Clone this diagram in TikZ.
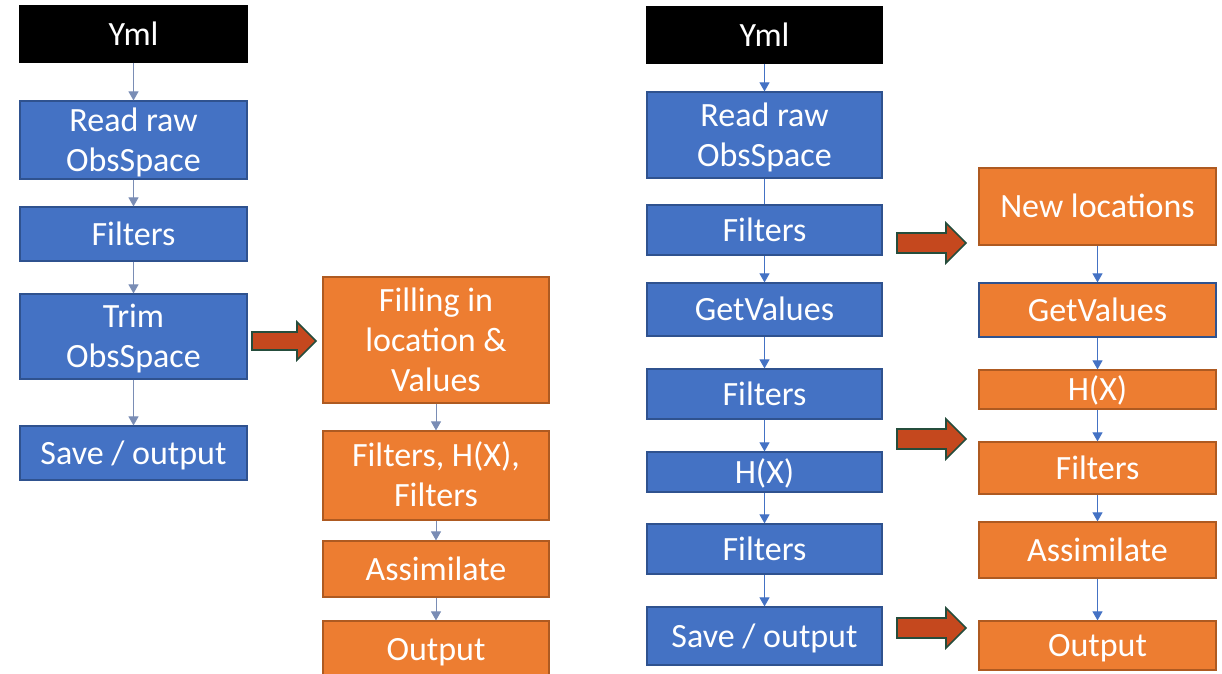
\documentclass[tikz,border=0pt]{standalone}
\usepackage{fontspec}
\setmainfont{Carlito}
\usetikzlibrary{arrows.meta}
\definecolor{boxblue}{HTML}{4472C4}
\definecolor{edgeblue}{HTML}{2F528F}
\definecolor{boxorange}{HTML}{ED7D31}
\definecolor{edgeorange}{HTML}{AE5A21}
\definecolor{fatred}{HTML}{C5481E}
\definecolor{fatedge}{HTML}{254D3C}
\definecolor{linkgray}{HTML}{7A8DB5}

\begin{document}
\begin{tikzpicture}[x=1pt,y=-1pt,
  box/.style={draw,line width=1.2pt,inner sep=0pt,text width=220pt,align=flush center,
    text=white,font=\fontsize{34}{40}\selectfont,
    execute at begin node={\noindent\rule{0pt}{30pt}},
    execute at end node={\rule[-8pt]{0pt}{8pt}}},
  bluebox/.style={box,fill=boxblue,draw=edgeblue},
  orangebox/.style={box,fill=boxorange,draw=edgeorange},
  ymlbox/.style={box,fill=black,draw=black},
  flow/.style={draw=boxblue,line width=1pt,-{Triangle[width=10pt,length=9pt]}},
  fat/.style={draw=fatedge,fill=fatred,line width=1.6pt,line join=miter}]
  \useasboundingbox (0,0) rectangle (1222,673);
  \clip (0,0) rectangle (1222,673);

  % left chain
  \node[ymlbox,minimum width=227pt,minimum height=56pt] (yml1) at (133.5,34) {Yml};
  \node[bluebox,minimum width=227pt,minimum height=76pt] (read1) at (133.5,140) {Read raw\\ObsSpace};
  \node[bluebox,minimum width=227pt,minimum height=54pt] (filt1) at (133.5,234) {Filters};
  \node[bluebox,minimum width=227pt,minimum height=85pt] (trim1) at (133.5,336.5) {Trim\\ObsSpace};
  \node[bluebox,minimum width=227pt,minimum height=54pt] (save1) at (133.5,453) {Save / output};

  \node[orangebox,minimum width=226pt,minimum height=126pt] (fill1) at (436,340) {Filling in\\location \&\\Values};
  \node[orangebox,minimum width=226pt,minimum height=89pt] (fhf1) at (436,475.5) {Filters, H(X),\\Filters};
  \node[orangebox,minimum width=226pt,minimum height=56pt] (assim1) at (436,569) {Assimilate};
  \node[orangebox,minimum width=226pt,minimum height=56pt] (out1) at (436,649) {Output};

  \draw[flow,draw=linkgray] (yml1) -- (read1);
  \draw[flow,draw=linkgray] (read1) -- (filt1);
  \draw[flow,draw=linkgray] (filt1) -- (trim1);
  \draw[flow,draw=linkgray] (trim1) -- (save1);
  \draw[flow,draw=linkgray] (fill1) -- (fhf1);
  \draw[flow,draw=linkgray] (fhf1) -- (assim1);
  \draw[flow,draw=linkgray] (assim1) -- (out1);

  \coordinate (fa1) at (252,341);
  \draw[fat] (fa1) ++(0,-9) -- ++(45,0) -- ++(0,-10) -- ++(19,19)
    -- ++(-19,19) -- ++(0,-10) -- ++(-45,0) -- cycle;

  % right chain
  \node[ymlbox,minimum width=235pt,minimum height=56pt] (yml2) at (764.5,35) {Yml};
  \node[bluebox,minimum width=235pt,minimum height=86pt] (read2) at (764.5,135) {Read raw\\ObsSpace};
  \node[bluebox,minimum width=235pt,minimum height=50pt] (filt2) at (764.5,230) {Filters};
  \node[bluebox,minimum width=235pt,minimum height=53pt] (getv2) at (764.5,309.5) {GetValues};
  \node[bluebox,minimum width=235pt,minimum height=50pt] (filt3) at (764.5,394) {Filters};
  \node[bluebox,minimum width=235pt,minimum height=40pt] (hx2) at (764.5,472) {H(X)};
  \node[bluebox,minimum width=235pt,minimum height=50pt] (filt4) at (764.5,549) {Filters};
  \node[bluebox,minimum width=235pt,minimum height=58pt] (save2) at (764.5,636) {Save / output};

  \node[orangebox,minimum width=237pt,minimum height=77pt] (newloc) at (1097.5,206.5) {New locations};
  \node[orangebox,draw=edgeblue,minimum width=237pt,minimum height=54pt] (getv3) at (1097.5,310) {GetValues};
  \node[orangebox,minimum width=237pt,minimum height=39pt] (hx3) at (1097.5,389.5) {H(X)};
  \node[orangebox,minimum width=237pt,minimum height=52pt] (filt5) at (1097.5,468) {Filters};
  \node[orangebox,minimum width=237pt,minimum height=56pt] (assim2) at (1097.5,550) {Assimilate};
  \node[orangebox,minimum width=237pt,minimum height=49pt] (out2) at (1097.5,645.5) {Output};

  \draw[flow] (yml2) -- (read2);
  \draw[draw=boxblue,line width=1pt] (read2) -- (filt2);
  \draw[flow] (filt2) -- (getv2);
  \draw[flow] (getv2) -- (filt3);
  \draw[flow] (filt3) -- (hx2);
  \draw[flow] (hx2) -- (filt4);
  \draw[flow] (filt4) -- (save2);
  \draw[flow] (newloc) -- (getv3);
  \draw[flow] (getv3) -- (hx3);
  \draw[flow] (hx3) -- (filt5);
  \draw[flow] (filt5) -- (assim2);
  \draw[flow] (assim2) -- (out2);

  \foreach \name/\yy in {fa2/243,fa3/439,fa4/628}{
    \coordinate (\name) at (897,\yy);
    \draw[fat] (\name) ++(0,-10) -- ++(49,0) -- ++(0,-10) -- ++(20,20)
      -- ++(-20,20) -- ++(0,-10) -- ++(-49,0) -- cycle;
  }
\end{tikzpicture}
\end{document}
